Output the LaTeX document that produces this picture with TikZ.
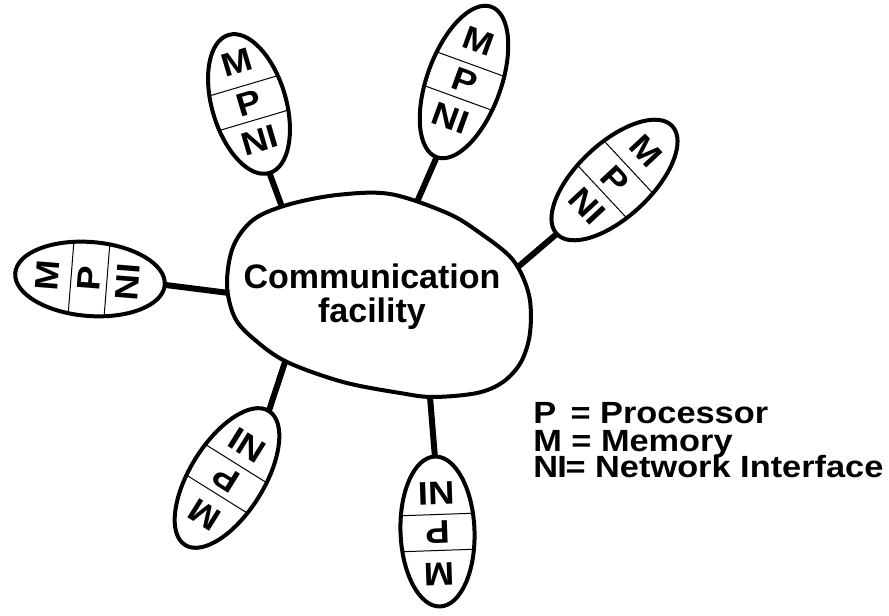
\documentclass[tikz,border=0pt]{standalone}
\usepackage{fontspec}
\setmainfont{Liberation Sans}
\newfontfamily\widesans{Liberation Sans}[FakeStretch=1.12]

\begin{document}
\begin{tikzpicture}[x=0.75pt, y=0.75pt,
    outline/.style={line width=3pt},
    stem/.style={line width=4.5pt},
    divider/.style={line width=0.75pt},
    letter/.style={inner sep=0pt, font=\widesans\bfseries\fontsize{24.5}{24.5}\selectfont},
    legend/.style={inner sep=0pt, anchor=base west, font=\widesans\bfseries\fontsize{23}{23}\selectfont}]
  \useasboundingbox (0,0) rectangle (889,-616);
  % communication facility
  \draw[outline] plot[smooth cycle, tension=0.55] coordinates {(227,-285) (233,-247) (253,-220) (287,-205) (337,-195) (390,-194) (447,-213) (480,-233) (513,-260) (529,-295) (530,-333) (521,-362) (503,-382) (477,-393) (433,-397) (400,-393) (343,-382) (287,-362) (255,-340) (235,-318)};
  \node[align=center, inner sep=0pt, font=\bfseries\fontsize{25.5}{25.5}\selectfont] (comm) at (372,-296.5) {Communication\\facility};
  % stem ends on the blob
  \coordinate (b1) at (282,-207);
  \coordinate (b2) at (417,-202);
  \coordinate (b3) at (518,-267);
  \coordinate (b4) at (229,-293);
  \coordinate (b5) at (285,-362);
  \coordinate (b6) at (430,-397);
  % processing units
  \foreach \n/\x/\y/\a/\r in {1/249/-104/16.5/72, 2/464/-82/-20/80, 3/614.5/-180/-47/79, 4/90/-279/85.5/75, 5/227/-478/148/79, 6/437.5/-531.5/182/75} {
    \begin{scope}[shift={(\x,\y)}, rotate=\a]
      \draw[outline] (0,0) ellipse [x radius=37, y radius=\r];
      \begin{scope}
        \clip (0,0) ellipse [x radius=37, y radius=\r];
        \draw[divider] (-40,19) -- (40,19);
        \draw[divider] (-40,-17) -- (40,-17);
      \end{scope}
      \node[letter, rotate=\a] (m\n) at (0,43) {M};
      \node[letter, rotate=\a] (p\n) at (0,1) {P};
      \node[letter, rotate=\a] (ni\n) at (0,-38) {NI};
      \coordinate (u\n) at (0,-\r);
    \end{scope}
    \draw[stem] (u\n) -- (b\n);
  }
  % legend
  \node[legend] (legp) at (533,-424) {\makebox[28pt][l]{P}= Processor};
  \node[legend] (legm) at (533,-451) {M = Memory};
  \node[legend] (legni) at (533,-477) {N\kern-0.5pt I\kern-1pt= Network Interface};
\end{tikzpicture}
\end{document}
